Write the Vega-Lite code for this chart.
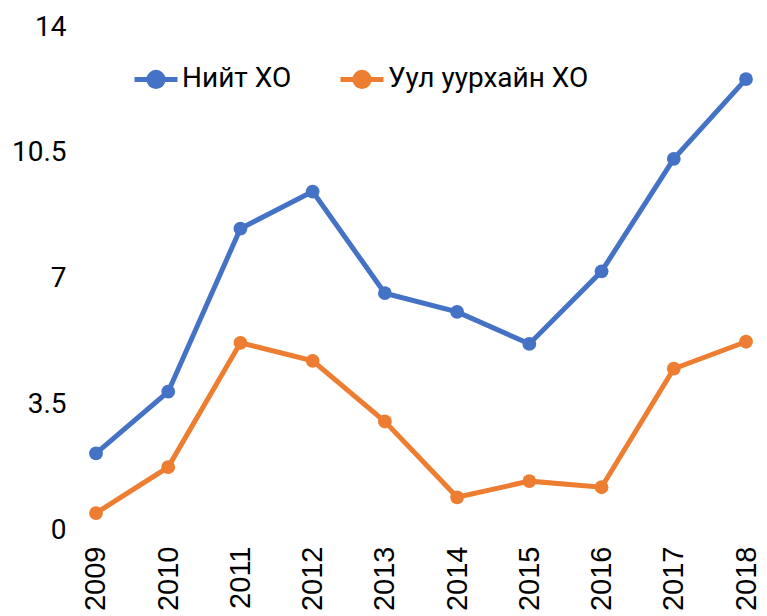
{
  "$schema": "https://vega.github.io/schema/vega-lite/v6.json",
  "width": 698,
  "height": 503,
  "autosize": {"type": "none"},
  "padding": {"left": 72, "top": 27, "right": 0, "bottom": 86},
  "background": "white",
  "config": {"view": {"stroke": null}},
  "data": {
    "values": [
      {"year": "2009", "series": "Нийт ХО", "value": 2.13},
      {"year": "2010", "series": "Нийт ХО", "value": 3.85},
      {"year": "2011", "series": "Нийт ХО", "value": 8.39},
      {"year": "2012", "series": "Нийт ХО", "value": 9.42},
      {"year": "2013", "series": "Нийт ХО", "value": 6.59},
      {"year": "2014", "series": "Нийт ХО", "value": 6.07},
      {"year": "2015", "series": "Нийт ХО", "value": 5.18},
      {"year": "2016", "series": "Нийт ХО", "value": 7.2},
      {"year": "2017", "series": "Нийт ХО", "value": 10.33},
      {"year": "2018", "series": "Нийт ХО", "value": 12.55},
      {"year": "2009", "series": "Уул уурхайн ХО", "value": 0.47},
      {"year": "2010", "series": "Уул уурхайн ХО", "value": 1.75},
      {"year": "2011", "series": "Уул уурхайн ХО", "value": 5.21},
      {"year": "2012", "series": "Уул уурхайн ХО", "value": 4.71},
      {"year": "2013", "series": "Уул уурхайн ХО", "value": 3.02},
      {"year": "2014", "series": "Уул уурхайн ХО", "value": 0.91},
      {"year": "2015", "series": "Уул уурхайн ХО", "value": 1.36},
      {"year": "2016", "series": "Уул уурхайн ХО", "value": 1.19},
      {"year": "2017", "series": "Уул уурхайн ХО", "value": 4.49},
      {"year": "2018", "series": "Уул уурхайн ХО", "value": 5.24}
    ]
  },
  "encoding": {
    "x": {
      "field": "year", "type": "ordinal",
      "scale": {"type": "point", "padding": 0.332},
      "axis": {
        "title": null, "domain": false, "ticks": false, "grid": false,
        "labelAngle": -90, "labelAlign": "right", "labelBaseline": "middle",
        "labelPadding": 16, "labelFont": "Liberation Sans", "labelFontSize": 29,
        "labelColor": "black"
      }
    },
    "y": {
      "field": "value", "type": "quantitative",
      "scale": {"domain": [0, 14], "nice": false},
      "axis": {
        "title": null, "domain": false, "ticks": false, "grid": false,
        "values": [0, 3.5, 7, 10.5, 14], "format": ".1~f", "labelPadding": 6,
        "labelFont": "Roboto", "labelFontSize": 28, "labelColor": "black",
        "labelFlush": false
      }
    },
    "color": {
      "field": "series", "type": "nominal",
      "scale": {"domain": ["Нийт ХО", "Уул уурхайн ХО"], "range": ["#4472C4", "#ED7D31"]},
      "legend": {
        "title": null, "orient": "none", "legendX": 60, "legendY": 28,
        "direction": "horizontal", "columns": 2, "columnPadding": 38,
        "symbolType": "M-1,0L1,0M-0.33,0A0.33,0.33,0,1,1,0.33,0A0.33,0.33,0,1,1,-0.33,0Z",
        "symbolSize": 1849, "symbolStrokeWidth": 5,
        "labelFont": "Roboto", "labelFontSize": 28, "labelColor": "black",
        "labelLimit": 400, "labelOffset": 2, "symbolOffset": 0
      }
    }
  },
  "layer": [
    {"mark": {"type": "line", "strokeWidth": 5}},
    {"mark": {"type": "point", "filled": true, "size": 190, "opacity": 1}}
  ]
}
